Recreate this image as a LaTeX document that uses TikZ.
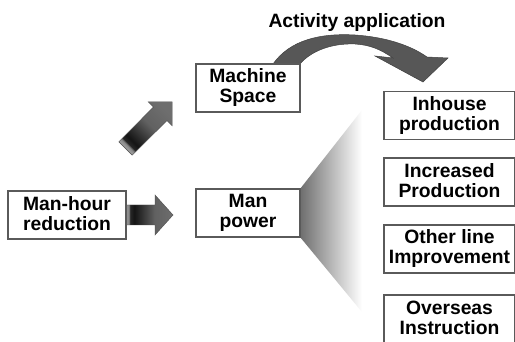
\documentclass[tikz,border=0pt]{standalone}
\usepackage{fontspec}
\setmainfont{Liberation Sans}
\newcommand\mystrut{\rule[-3pt]{0pt}{17pt}}
\definecolor{boxline}{HTML}{5A5A5A}
\definecolor{arrowgray}{HTML}{575757}
\pgfdeclarehorizontalshading{arrshade}{100bp}{color(0bp)=(black!40);color(25bp)=(black!40);color(27bp)=(black!50);color(28.5bp)=(black!85);color(33bp)=(black!92);color(55bp)=(black!62);color(75bp)=(black!57);color(100bp)=(black!57)}
\tikzset{
  box/.style={draw=boxline, line width=1.2pt, fill=white, inner sep=0pt,
    minimum height=48pt, align=center, font=\fontsize{19.3}{20}\selectfont\bfseries},
  lbl/.style={inner sep=0pt, font=\fontsize{19.3}{20}\selectfont\bfseries},
  blockarrow/.style={shading=arrshade, draw=black!70, line width=0.4pt},
}
\begin{document}
\begin{tikzpicture}[x=1pt,y=1pt]
\useasboundingbox (0,0) rectangle (515,-342);
\clip (0,0) rectangle (515,-342);
\fill[white] (0,0) rectangle (515,-342);

% fan shading from Man power
\shade[left color=black!57, right color=white]
  (300,-189) -- (362,-110) -- (362,-312) -- (300,-237) -- cycle;

% curved arrow "Activity application"
\fill[arrowgray, draw=black!75, line width=0.5pt]
  (273,-64) .. controls (290,-40) and (320,-33) .. (355,-35)
  .. controls (385,-37) and (410,-45) .. (427,-57)
  -- (448,-58) -- (423,-82) -- (375,-56) -- (393,-58)
  .. controls (380,-49) and (370,-45) .. (355,-44)
  .. controls (330,-43) and (310,-52) .. (300,-64) -- cycle;

% diagonal block arrow
\path[blockarrow, shading angle=45]
  (132.2,-155.2) -- (166.9,-120.6) -- (172.2,-125.9) -- (172.2,-101.8)
  -- (148.1,-101.8) -- (153.4,-107.1) -- (118.8,-141.8) -- cycle;

% horizontal block arrow
\path[blockarrow]
  (127,-205) -- (155,-205) -- (155,-195) -- (173,-215) -- (155,-235)
  -- (155,-225) -- (127,-225) -- cycle;

% boxes
\node[box, minimum width=118pt] (mh) at (67,-215) {\mystrut Man-hour\\\mystrut reduction};
\node[box, minimum width=104pt] (mp) at (248,-213) {\mystrut Man\\\mystrut power};
\node[box, minimum width=104pt] (ms) at (248,-88) {\mystrut Machine\\\mystrut Space};
\node[box, minimum width=131pt] (ih) at (449.5,-115.5) {\mystrut Inhouse\\\mystrut production};
\node[box, minimum width=131pt] (ip) at (449.5,-182) {\mystrut Increased\\\mystrut Production};
\node[box, minimum width=131pt] (ol) at (449.5,-249) {\mystrut Other line\\\mystrut Improvement};
\node[box, minimum width=131pt] (os) at (449.5,-319) {\mystrut Overseas\\\mystrut Instruction};

\node[lbl, anchor=base] (aa) at (357,-28) {Activity application};
\end{tikzpicture}
\end{document}
